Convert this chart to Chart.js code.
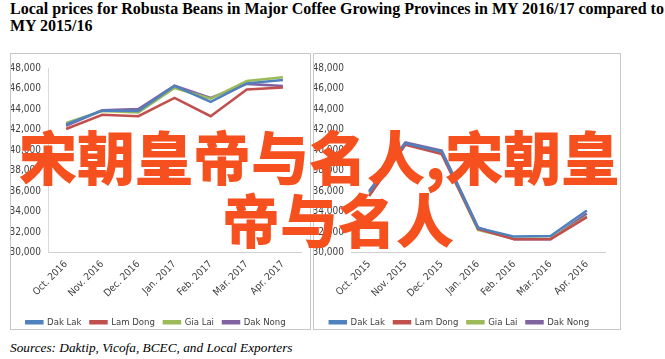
<!DOCTYPE html>
<html>
<head>
<meta charset="utf-8">
<script src="https://cdn.jsdelivr.net/npm/chart.js@4.4.1/dist/chart.umd.min.js"></script>
<style>
  html, body { margin: 0; padding: 0; background: #fff; }
  body { width: 665px; height: 359px; position: relative; overflow: hidden; }
  #title { position: absolute; left: 10px; top: 0px; width: 660px; white-space: nowrap; overflow: hidden;
    font-family: "Liberation Serif", "Times New Roman", serif; font-weight: bold; font-size: 16px; line-height: 17px; color: #000; }
  #src { position: absolute; left: 10px; top: 340px; white-space: nowrap;
    font-family: "Liberation Serif", "Times New Roman", serif; font-style: italic; font-size: 13.3px; color: #000; }
  .panel { position: absolute; top: 53px; height: 277px; border: 1px solid #c8c8c8; box-sizing: border-box; background: #fff; overflow: visible; }
  #p1 { left: 10px; width: 301px; }
  #p2 { left: 313px; width: 308px; }
  .panel canvas { position: absolute; left: 0; top: 0; }
  .wm { position: absolute; white-space: nowrap; color: #F5501E; font-family: "Noto Sans CJK SC", sans-serif;
    font-weight: 900; font-size: 58px; line-height: 58px; z-index: 10; }
  #wm1 { left: 19px; top: 126px; }
  #wm2 { left: 222px; top: 189px; }
</style>
</head>
<body>
<div id="title">Local prices for Robusta Beans in Major Coffee Growing Provinces in MY 2016/17 compared to<br>MY 2015/16</div>
<div class="panel" id="p1"><canvas id="c1" width="299" height="283"></canvas></div>
<div class="panel" id="p2"><canvas id="c2" width="306" height="283"></canvas></div>
<div id="src">Sources: Daktip, Vicofa, BCEC, and Local Exporters</div>
<div class="wm" id="wm1">宋朝皇帝与名人,宋朝皇</div>
<div class="wm" id="wm2">帝与名人</div>
<script>
// ---- data ----
const provinces = ['Dak Lak', 'Lam Dong', 'Gia Lai', 'Dak Nong'];
const months1617 = ['Oct. 2016', 'Nov. 2016', 'Dec. 2016', 'Jan. 2017', 'Feb. 2017', 'Mar. 2017', 'Apr. 2017'];
const months1516 = ['Oct. 2015', 'Nov. 2015', 'Dec. 2015', 'Jan. 2016', 'Feb. 2016', 'Mar. 2016', 'Apr. 2016'];

const dakLak1617  = [42500, 43850, 43800, 46250, 44700, 46500, 46830];
const lamDong1617 = [42050, 43430, 43300, 45080, 43300, 45900, 46100];
const giaLai1617  = [42650, 43800, 43650, 46050, 45000, 46730, 47100];
const dakNong1617 = [42350, 43880, 44000, 46270, 45080, 46450, 46250];

const dakLak1516  = [35900, 40650, 39850, 32400, 31550, 31600, 34100];
const lamDong1516 = [35500, 40500, 39600, 32300, 31300, 31300, 33450];
const giaLai1516  = [35700, 40550, 39700, 32200, 31350, 31350, 33500];
const dakNong1516 = [36000, 40750, 39950, 32450, 31300, 31300, 33800];

const yTicks = [30000, 32000, 34000, 36000, 38000, 40000, 42000, 44000, 46000, 48000];

// ---- styles ----
const colors = ['#4F81BD', '#C0504D', '#9BBB59', '#8064A2'];
const narrow = "'Liberation Sans Narrow', 'DejaVu Sans Condensed', 'Roboto Condensed', Roboto, sans-serif";

function makeChart(id, labels, series, rightPad, showYLine) {
  new Chart(document.getElementById(id), {
    type: 'line',
    data: {
      labels: labels,
      datasets: series.map((d, i) => ({
        label: provinces[i], data: d, borderColor: colors[i], backgroundColor: colors[i],
        borderWidth: 2.5, pointRadius: 0, tension: 0, fill: false
      }))
    },
    options: {
      responsive: false, animation: false,
      layout: { padding: { left: 0, right: rightPad, top: 14, bottom: 0 } },
      plugins: {
        tooltip: { enabled: false },
        legend: {
          position: 'bottom',
          labels: { boxWidth: 16, boxHeight: 2, padding: 9, color: '#404040',
            font: { family: narrow, size: 9.5 } }
        }
      },
      scales: {
        x: {
          offset: true,
          grid: { display: false, drawTicks: false },
          border: { display: true, color: '#d0d0d0', width: 1 },
          ticks: { color: '#404040', maxRotation: 45, minRotation: 45, padding: 6, autoSkip: false,
            font: { family: narrow, size: 10 } },
          afterFit: s => { s.height = 56; }
        },
        y: {
          min: 30000, max: 48000,
          afterBuildTicks: s => { s.ticks = yTicks.map(v => ({ value: v })); },
          grid: { display: false, drawTicks: false },
          border: { display: showYLine, color: '#d9d9d9', width: 1 },
          ticks: { color: '#404040', padding: 7, font: { family: narrow, size: 10 },
            callback: v => v.toLocaleString('en-US') },
          afterFit: s => { s.width = 37; }
        }
      }
    }
  });
}

makeChart('c1', months1617, [dakLak1617, lamDong1617, giaLai1617, dakNong1617], 9, true);
makeChart('c2', months1516, [dakLak1516, lamDong1516, giaLai1516, dakNong1516], 15, false);
</script>
</body>
</html>
